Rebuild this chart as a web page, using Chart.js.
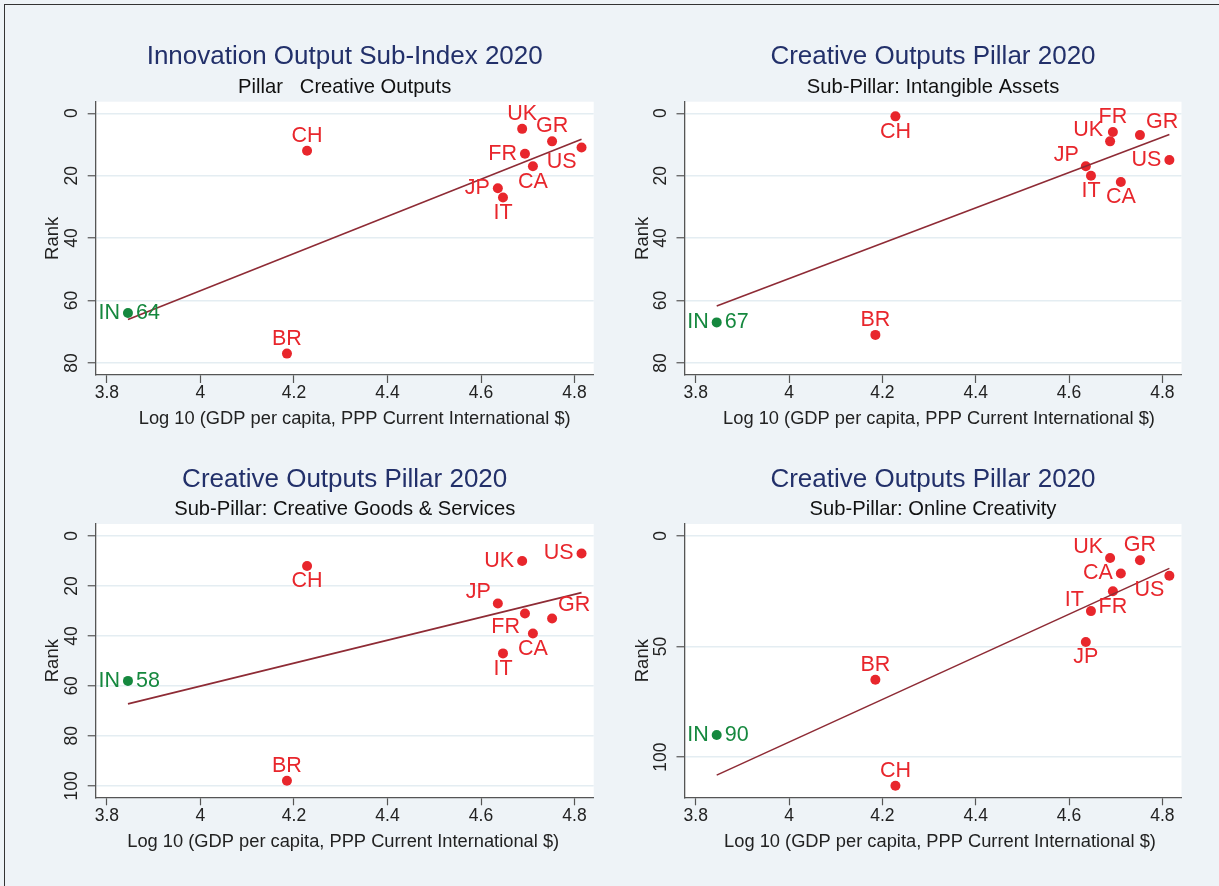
<!DOCTYPE html>
<html>
<head>
<meta charset="utf-8">
<title>Creative Outputs Pillar 2020</title>
<script src="https://cdn.jsdelivr.net/npm/chart.js@4.4.0/dist/chart.umd.min.js"></script>
<style>
  body { margin: 0; background: #eef3f7; width: 1219px; height: 886px; overflow: hidden; position: relative; }
  #frame { position: absolute; left: 4px; top: 4px; right: 0; bottom: 0; border-top: 1.5px solid #333; border-left: 1.5px solid #333; }
  canvas { position: absolute; }
</style>
</head>
<body>
<div id="frame"></div>
<canvas id="c1" width="600" height="440" style="left:0;top:0"></canvas>
<canvas id="c2" width="619" height="440" style="left:600px;top:0"></canvas>
<canvas id="c3" width="600" height="446" style="left:0;top:440px"></canvas>
<canvas id="c4" width="619" height="446" style="left:600px;top:440px"></canvas>
<script>
// data
var countries = ['IN', 'BR', 'CH', 'JP', 'IT', 'UK', 'FR', 'CA', 'GR', 'US'];
var logGdpPpp = [3.845, 4.185, 4.228, 4.636, 4.647, 4.688, 4.694, 4.711, 4.752, 4.815];
var rankCreativeOutputs = [64, 77, 12, 24, 27, 5, 13, 17, 9, 11];
var rankIntangibleAssets = [67, 71, 1, 17, 20, 9, 6, 22, 7, 15];
var rankCreativeGoods = [58, 98, 12, 27, 47, 10, 31, 39, 33, 7];
var rankOnlineCreativity = [90, 65, 113, 48, 34, 10, 25, 17, 11, 18];
var focusCountry = 'IN';

var xTicks = [3.8, 4, 4.2, 4.4, 4.6, 4.8];
var yTicksTo80 = [0, 20, 40, 60, 80];
var yTicksTo100 = [0, 20, 40, 60, 80, 100];
var yTicksBy50 = [0, 50, 100];

var titles = ['Innovation Output Sub-Index 2020', 'Creative Outputs Pillar 2020',
              'Creative Outputs Pillar 2020', 'Creative Outputs Pillar 2020'];
var subtitles = ['Pillar   Creative Outputs', 'Sub-Pillar: Intangible Assets',
                 'Sub-Pillar: Creative Goods & Services', 'Sub-Pillar: Online Creativity'];
var xTitle = 'Log 10 (GDP per capita, PPP Current International $)';
var yTitle = 'Rank';

// marker label clock positions (0 = focus country, label both sides)
var labelPos1 = [0, 12, 12, 9, 6, 12, 9, 6, 12, 7];
var labelPos2 = [0, 12, 6, 11, 6, 11, 12, 6, 1, 9];
var labelPos3 = [0, 12, 6, 11, 6, 9, 7, 6, 1, 9];
var labelPos4 = [0, 12, 12, 6, 11, 11, 6, 9, 12, 7];

var RED = '#e8262c', GREEN = '#15883e', NAVY = '#22306a', FIT = '#8e2b35';
var AXIS = '#555555', GRID = '#e4edf2';
var FONT = '"Liberation Sans", Arial, Helvetica, sans-serif';
Chart.defaults.font.family = FONT;
Chart.defaults.color = '#222';

var clock = {
  12: { dx: 0, dy: -15, align: 'center' },
  6:  { dx: 0, dy: 15.5, align: 'center' },
  9:  { dx: -8, dy: 0, align: 'right' },
  3:  { dx: 8, dy: 0, align: 'left' },
  11: { dx: -7, dy: -11, align: 'right' },
  1:  { dx: 6, dy: -13, align: 'left' },
  7:  { dx: -5, dy: 14, align: 'right' }
};

function lfit(xs, ys) {
  var n = xs.length, mx = 0, my = 0, sxy = 0, sxx = 0;
  for (var i = 0; i < n; i++) { mx += xs[i] / n; my += ys[i] / n; }
  for (var j = 0; j < n; j++) { sxy += (xs[j] - mx) * (ys[j] - my); sxx += (xs[j] - mx) * (xs[j] - mx); }
  var b = sxy / sxx, a = my - b * mx;
  var lo = Math.min.apply(null, xs), hi = Math.max.apply(null, xs);
  return [{ x: lo, y: a + b * lo }, { x: hi, y: a + b * hi }];
}

function panel(id, ranks, yTicks, yMin, yMax, idx, labelPos, box) {
  var pts = countries.map(function (c, i) { return { x: logGdpPpp[i], y: ranks[i] }; });
  var cols = countries.map(function (c) { return c === focusCountry ? GREEN : RED; });

  var plotBg = {
    id: 'plotBg',
    beforeDraw: function (chart) {
      var a = chart.chartArea, ctx = chart.ctx;
      ctx.save();
      ctx.fillStyle = '#ffffff';
      ctx.fillRect(a.left, a.top, a.right - a.left, a.bottom - a.top);
      ctx.restore();
    }
  };

  // vertical y tick labels and the x axis title (Stata places it a little off centre)
  var axisText = {
    id: 'axisText',
    afterDraw: function (chart) {
      var s = chart.scales.y, sx = chart.scales.x, a = chart.chartArea, ctx = chart.ctx;
      ctx.save();
      ctx.font = '17.5px ' + FONT;
      ctx.fillStyle = '#222';
      ctx.textAlign = 'center';
      ctx.textBaseline = 'middle';
      s.ticks.forEach(function (t) {
        ctx.save();
        ctx.translate(s.right - 23.5, s.getPixelForValue(t.value));
        ctx.rotate(-Math.PI / 2);
        ctx.fillText(String(t.value), 0, 0);
        ctx.restore();
      });
      ctx.font = '18.3px ' + FONT;
      ctx.fillText(xTitle, (a.left + a.right) / 2 + box.xTitleDx, sx.bottom - box.xTitlePad - 11);
      ctx.restore();
    }
  };

  var markLabels = {
    id: 'markLabels',
    afterDatasetsDraw: function (chart) {
      var meta = chart.getDatasetMeta(1), ctx = chart.ctx;
      ctx.save();
      ctx.font = '21.5px ' + FONT;
      ctx.textBaseline = 'middle';
      meta.data.forEach(function (el, i) {
        var p = labelPos[i];
        if (p === 0) {
          ctx.fillStyle = GREEN;
          ctx.textAlign = 'right';
          ctx.fillText(countries[i], el.x - 8, el.y);
          ctx.textAlign = 'left';
          ctx.fillText(String(ranks[i]), el.x + 8, el.y);
          return;
        }
        var c = clock[p];
        ctx.fillStyle = RED;
        ctx.textAlign = c.align;
        ctx.fillText(countries[i], el.x + c.dx, el.y + c.dy);
      });
      ctx.restore();
    }
  };

  return new Chart(document.getElementById(id), {
    data: {
      datasets: [
        {
          type: 'line',
          data: lfit(logGdpPpp, ranks),
          borderColor: FIT,
          borderWidth: 1.6,
          pointRadius: 0,
          order: 0
        },
        {
          type: 'scatter',
          data: pts,
          backgroundColor: cols,
          borderColor: cols,
          borderWidth: 0,
          pointRadius: 5,
          order: 1
        }
      ]
    },
    options: {
      responsive: false,
      animation: false,
      devicePixelRatio: 1,
      layout: { padding: { left: 0, right: box.rightPad, top: 0, bottom: 0 } },
      plugins: {
        legend: { display: false },
        tooltip: { enabled: false },
        title: {
          display: true, text: titles[idx], color: NAVY, fullSize: false,
          font: { size: 26, weight: 'normal' },
          padding: { top: box.titleTop, bottom: 0 }
        },
        subtitle: {
          display: true, text: subtitles[idx], color: '#111', fullSize: false,
          font: { size: 20.2, weight: 'normal' },
          padding: { top: box.subGap, bottom: 2.2 }
        }
      },
      scales: {
        x: {
          type: 'linear', min: 3.776, max: 4.841,
          afterBuildTicks: function (s) { s.ticks = xTicks.map(function (v) { return { value: v }; }); },
          afterFit: function (s) { s.height = box.xAxisH; },
          ticks: { color: '#222', padding: 0, font: { size: 17.5 }, callback: function (v) { return String(v); } },
          grid: { display: true, drawOnChartArea: false, drawTicks: true, tickLength: 8, tickColor: AXIS, tickWidth: 1.2 },
          border: { display: true, color: AXIS, width: 1.3 },
          title: { display: false }
        },
        y: {
          type: 'linear', reverse: true, min: yMin, max: yMax,
          afterBuildTicks: function (s) { s.ticks = yTicks.map(function (v) { return { value: v }; }); },
          afterFit: function (s) { s.width = box.yAxisW; },
          ticks: { display: false },
          grid: { display: true, drawOnChartArea: true, drawTicks: true, tickLength: 8, color: GRID, lineWidth: 1.5, tickColor: AXIS, tickWidth: 1.2 },
          border: { display: true, color: AXIS, width: 1.3 },
          title: { display: true, text: yTitle, color: '#222', font: { size: 18.5 }, padding: { top: box.rankPad, bottom: 0 } }
        }
      }
    },
    plugins: [plotBg, axisText, markLabels]
  });
}

panel('c1', rankCreativeOutputs, yTicksTo80, -3.7, 83.85, 0, labelPos1,
  { yAxisW: 95.7, rankPad: 42, rightPad: 6.3, titleTop: 41.4, subGap: 2.66, xAxisH: 65, xTitlePad: 9.6, xTitleDx: 10 });
panel('c2', rankIntangibleAssets, yTicksTo80, -3.7, 83.85, 1, labelPos2,
  { yAxisW: 84.5, rankPad: 32, rightPad: 37.5, titleTop: 41.4, subGap: 2.66, xAxisH: 65, xTitlePad: 9.6, xTitleDx: 6 });
panel('c3', rankCreativeGoods, yTicksTo100, -4.8, 104.6, 2, labelPos3,
  { yAxisW: 95.7, rankPad: 42, rightPad: 6.3, titleTop: 24.2, subGap: 2.16, xAxisH: 88.7, xTitlePad: 32.6, xTitleDx: -1.5 });
panel('c4', rankOnlineCreativity, yTicksBy50, -5.4, 118.2, 3, labelPos4,
  { yAxisW: 84.5, rankPad: 32, rightPad: 37.5, titleTop: 24.2, subGap: 2.16, xAxisH: 88.7, xTitlePad: 32.6, xTitleDx: 7 });
</script>
</body>
</html>
